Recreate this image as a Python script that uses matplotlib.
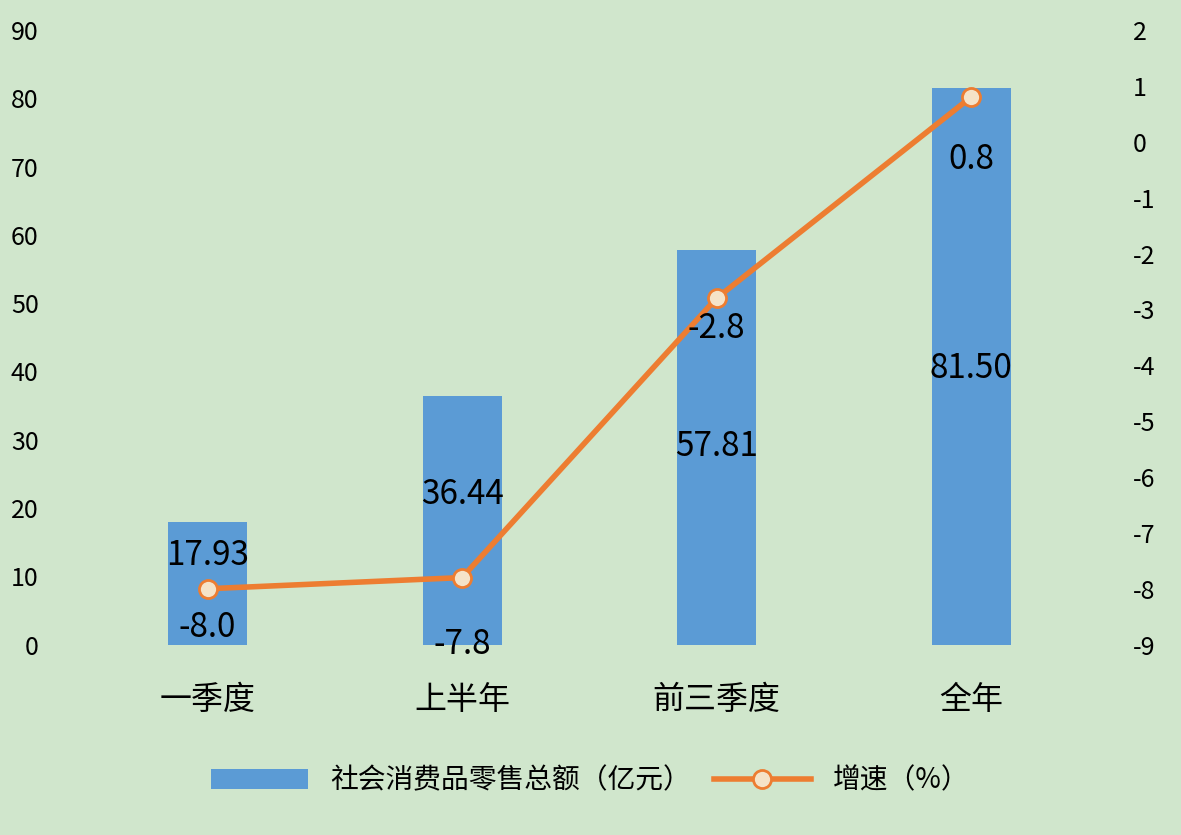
import matplotlib.pyplot as plt
import numpy as np

plt.rcParams['font.family'] = ['Noto Sans CJK SC', 'DejaVu Sans']
plt.rcParams['axes.unicode_minus'] = False

categories = ["一季度", "上半年", "前三季度", "全年"]
sales = [17.93, 36.44, 57.81, 81.50]
growth = [-8.0, -7.8, -2.8, 0.8]

bg = "#d0e6cc"
fig = plt.figure(figsize=(11.81, 8.35), dpi=100, facecolor=bg)
ax = fig.add_axes([0.068, 0.228, 0.862, 0.736], facecolor=bg)
ax2 = ax.twinx()

x = np.arange(len(categories))
ax.bar(x, sales, width=0.31, color="#5b9bd5", label="社会消费品零售总额（亿元）")
label_y = [13, 22, 29, 40.5]
for xi, v, ly in zip(x, sales, label_y):
    ax.text(xi, ly, f"{v:.2f}", ha="center", va="center", fontsize=24)

ax2.plot(x, growth, color="#ed7d31", lw=4, marker="o", ms=13,
         mfc="#f5e3c8", mec="#ed7d31", mew=2, label="增速（%）")
offs = [-28, -48, -22, -45]
for xi, g, o in zip(x, growth, offs):
    ax2.annotate(f"{g:.1f}", (xi, g), xytext=(0, o), textcoords="offset points",
                 ha="center", va="center", fontsize=24)

ax.set_xlim(-0.5, 3.5)
ax.set_ylim(0, 90)
ax.set_yticks(range(0, 91, 10))
ax2.set_ylim(-9, 2)
ax2.set_yticks(range(-9, 3))
ax.set_xticks(x)
ax.set_xticklabels(categories, fontsize=23)
ax.tick_params(axis="y", labelsize=18, length=0, pad=30)
ax2.tick_params(axis="y", labelsize=18, length=0, pad=25)
ax.tick_params(axis="x", length=0, pad=28)
for a in (ax, ax2):
    for s in a.spines.values():
        s.set_visible(False)

h1, l1 = ax.get_legend_handles_labels()
h2, l2 = ax2.get_legend_handles_labels()
fig.legend(h1 + h2, l1 + l2, loc="center", bbox_to_anchor=(0.5, 0.065), ncol=2,
           frameon=False, fontsize=20, handlelength=3.5, columnspacing=0.8)

fig.savefig("out.png", facecolor=bg)
